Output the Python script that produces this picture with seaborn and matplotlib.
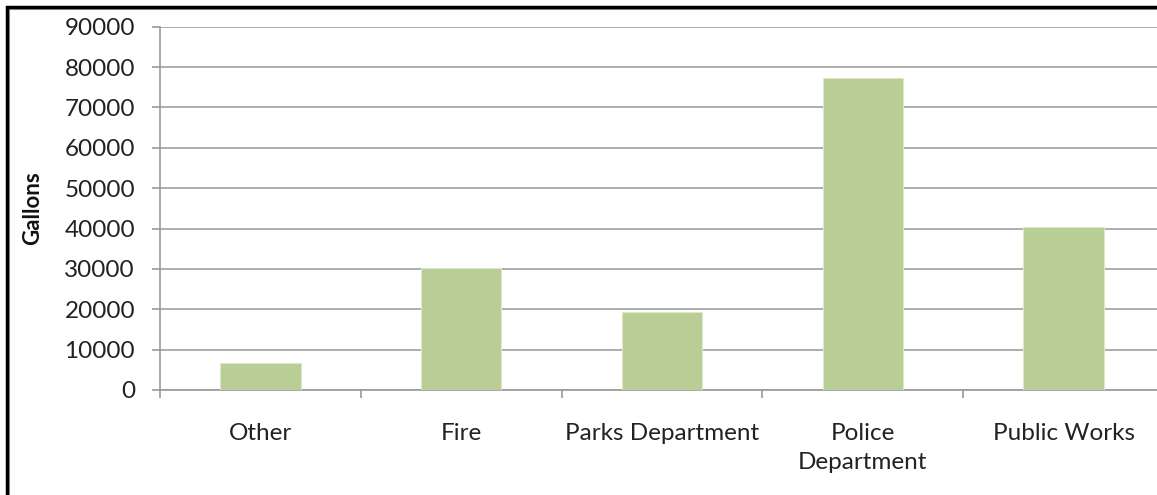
import matplotlib
matplotlib.use("Agg")
import matplotlib.pyplot as plt
import seaborn as sns
import pandas as pd
from matplotlib.patches import Rectangle

categories = ["Other", "Fire", "Parks Department", "Police\nDepartment", "Public Works"]
gallons = [6800, 30100, 19400, 77200, 40300]
y_ticks = [0, 10000, 20000, 30000, 40000, 50000, 60000, 70000, 80000, 90000]

df = pd.DataFrame({"Department": categories, "Gallons": gallons})

sns.set_style("white")
plt.rcParams['font.family'] = ['Lato', 'DejaVu Sans']

W, H = 1157, 495
fig = plt.figure(figsize=(W / 100, H / 100), dpi=100)
ax = fig.add_axes([160 / W, 1 - 390 / H, 1004 / W, (390 - 26.7) / H])

sns.barplot(data=df, x="Department", y="Gallons", color="#B9CD96",
            width=0.4, saturation=1, edgecolor="#DCE8C8", linewidth=0.8, ax=ax, zorder=3)

ax.set_ylim(0, 90000)
ax.set_xlim(-0.5, len(categories) - 0.5)
ax.set_yticks(y_ticks)
ax.set_yticklabels([str(v) for v in y_ticks])
ax.grid(axis="y", color="#A0A0A0", linewidth=1.2, zorder=0)
ax.grid(axis="x", visible=False)

for s in ["top", "right"]:
    ax.spines[s].set_visible(False)
for s in ["left", "bottom"]:
    ax.spines[s].set_color("#9A9A9A")
    ax.spines[s].set_linewidth(1.2)

ax.tick_params(axis="y", which="major", length=6, width=1.2, color="#9A9A9A",
               labelsize=17.5, labelcolor="#222222", pad=12, left=True, direction="out")
ax.set_xticks([i - 0.5 for i in range(len(categories) + 1)], minor=True)
ax.tick_params(axis="x", which="minor", length=6, width=1.2, color="#9A9A9A", bottom=True, direction="out")
ax.tick_params(axis="x", which="major", length=0, labelsize=17.5, labelcolor="#222222", pad=24)
for lbl in ax.get_xticklabels():
    lbl.set_linespacing(1.45)
    lbl.set_verticalalignment("top")

ax.set_xlabel("")
ax.set_ylabel("")
fig.text(33 / W, 1 - 208 / H, "Gallons", rotation=90, ha="center", va="center",
         fontsize=16, fontweight="bold", color="#111111")

# outer frame
fig.patches.append(Rectangle((9 / W, -0.2), 1.5, 1 - 9 / H + 0.2, transform=fig.transFigure,
                             fill=False, edgecolor="#A8A8A8", linewidth=1.5))
fig.patches.append(Rectangle((7 / W, -0.2), 1.5, 1 - 7 / H + 0.2, transform=fig.transFigure,
                             fill=False, edgecolor="#000000", linewidth=2.5))

fig.savefig("out.png", dpi=100, facecolor="white")
